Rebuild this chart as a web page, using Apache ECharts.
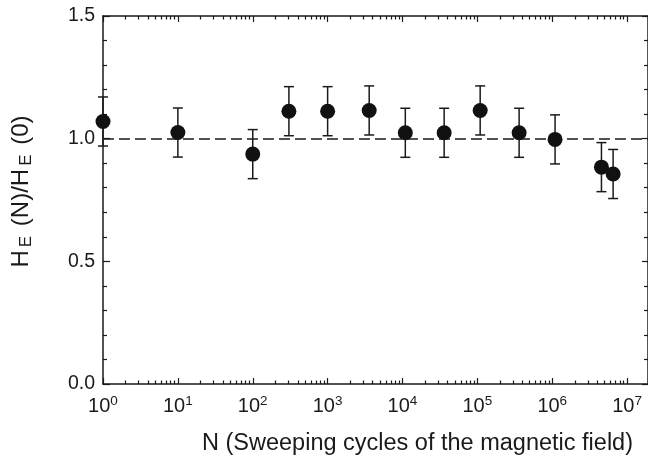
<!DOCTYPE html>
<html>
<head>
<meta charset="utf-8">
<script src="https://cdn.jsdelivr.net/npm/echarts@6/dist/echarts.min.js"></script>
<style>html,body{margin:0;padding:0;background:#fff}#c{width:648px;height:462px}</style>
</head>
<body>
<div id="c"></div>
<script>
// ---- data ----
var cycles = [1, 10, 100, 304, 1000, 3590, 10900, 36000, 109000, 361000, 1090000, 4540000, 6500000];
var ratio  = [1.070, 1.025, 0.937, 1.112, 1.112, 1.115, 1.024, 1.024, 1.115, 1.024, 0.997, 0.884, 0.856];
var errors = [0.10, 0.10, 0.10, 0.10, 0.10, 0.10, 0.10, 0.10, 0.10, 0.10, 0.10, 0.10, 0.10];
var xTickExponents = [0, 1, 2, 3, 4, 5, 6, 7];
var yTicks = [0, 0.5, 1.0, 1.5];
var referenceLevel = 1.0;

var FONT = '"Liberation Sans", Arial, Helvetica, sans-serif';
var INK = '#1a1a1a';
var xMin = 1, xMax = 1.9e7;

var majorX = xTickExponents.map(function (e) { return Math.pow(10, e); });
var minorX = [];
for (var k = 0; k < 7; k++) for (var m = 2; m <= 9; m++) minorX.push(m * Math.pow(10, k));

var pts = cycles.map(function (n, i) { return [n, ratio[i]]; });
var bars = cycles.map(function (n, i) { return [n, ratio[i] - errors[i], ratio[i] + errors[i]]; });

function xAxisBase(pos, ticks, len, showLine, showLabel) {
  return {
    type: 'log', logBase: 10, min: xMin, max: xMax, position: pos,
    splitLine: { show: false },
    axisLine: { show: showLine, lineStyle: { color: INK, width: 1.5 } },
    axisTick: { show: true, inside: true, length: len, customValues: ticks, lineStyle: { color: INK, width: 1.2 } },
    axisLabel: showLabel ? {
      show: true, customValues: majorX, margin: 10, color: INK, fontFamily: FONT,
      formatter: function (v) { return '{b|10}{s|' + Math.round(Math.log10(v)) + '}'; },
      rich: {
        b: { fontSize: 20, fontFamily: FONT, color: INK },
        s: { fontSize: 13.5, fontFamily: FONT, color: INK, padding: [0, 0, 11, 0] }
      }
    } : { show: false }
  };
}

function yAxisBase(pos, showLabel) {
  return {
    type: 'value', min: 0, max: 1.5, interval: 0.5, position: pos,
    splitLine: { show: false },
    axisLine: { show: true, lineStyle: { color: INK, width: 1.5 } },
    axisTick: { show: true, inside: true, length: pos === 'left' ? 7 : 6, customValues: yTicks, lineStyle: { color: INK, width: 1.2 } },
    minorTick: { show: true, splitNumber: 5, length: 4, lineStyle: { color: INK, width: 1.2 } },
    axisLabel: showLabel ? {
      show: true, customValues: yTicks, margin: 8, fontSize: 19.5, fontFamily: FONT, color: INK,
      formatter: function (v) { return v.toFixed(1); }
    } : { show: false }
  };
}

var xa0 = xAxisBase('bottom', majorX, 6, true, true);
xa0.name = 'N (Sweeping cycles of the magnetic field)';
xa0.nameLocation = 'middle';
xa0.nameGap = 48;
xa0.nameTextStyle = { fontSize: 23.5, fontFamily: FONT, color: INK, padding: [0, 0, 0, 84] };

var ya0 = yAxisBase('left', true);
ya0.name = 'H{s|E} (N)/H{s|E} (0)';
ya0.nameLocation = 'middle';
ya0.nameRotate = 90;
ya0.nameGap = 68;
ya0.nameTextStyle = {
  fontSize: 24, fontFamily: FONT, color: INK, padding: [0, 0, 0, 17],
  rich: { s: { fontSize: 17, fontFamily: FONT, color: INK, padding: [10, 3, 0, 3] } }
};

var chart = echarts.init(document.getElementById('c'), null, { renderer: 'canvas' });
chart.setOption({
  animation: false,
  backgroundColor: '#fff',
  grid: { left: 103, right: 0, top: 16, bottom: 78, containLabel: false },
  xAxis: [
    xa0,
    xAxisBase('bottom', minorX, 3.5, false, false),
    xAxisBase('top', majorX, 6, true, false),
    xAxisBase('top', minorX, 3.5, false, false)
  ],
  yAxis: [ya0, yAxisBase('right', false)],
  series: [
    {
      type: 'custom', xAxisIndex: 0, yAxisIndex: 0, clip: false, z: 2,
      data: bars,
      encode: { x: 0, y: [1, 2] },
      renderItem: function (params, api) {
        var x = api.value(0);
        var lo = api.coord([x, api.value(1)]);
        var hi = api.coord([x, api.value(2)]);
        var hw = 5;
        var st = { stroke: INK, lineWidth: 1.5 };
        return {
          type: 'group',
          children: [
            { type: 'line', shape: { x1: hi[0], y1: hi[1], x2: lo[0], y2: lo[1] }, style: st },
            { type: 'line', shape: { x1: hi[0] - hw, y1: hi[1], x2: hi[0] + hw, y2: hi[1] }, style: st },
            { type: 'line', shape: { x1: lo[0] - hw, y1: lo[1], x2: lo[0] + hw, y2: lo[1] }, style: st }
          ]
        };
      }
    },
    {
      type: 'scatter', xAxisIndex: 0, yAxisIndex: 0, clip: false, z: 4,
      symbol: 'circle', symbolSize: 15,
      itemStyle: { color: '#111', opacity: 1 },
      data: pts,
      markLine: {
        silent: true, symbol: 'none', z: 1,
        label: { show: false },
        lineStyle: { color: INK, width: 1.6, type: [11, 5] },
        data: [{ yAxis: referenceLevel }]
      }
    }
  ]
});
</script>
</body>
</html>
